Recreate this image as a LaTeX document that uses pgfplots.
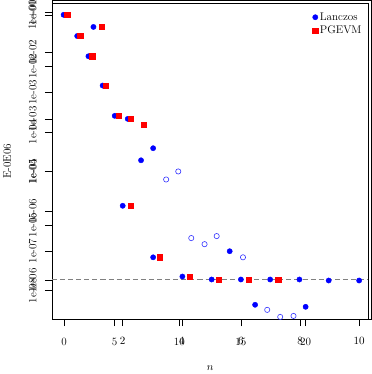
\documentclass[border=0pt]{standalone}
\usepackage{pgfplots}
\pgfplotsset{compat=1.18}
\begin{document}
\begin{tikzpicture}[font=\fontsize{11}{13}\selectfont]
\pgfplotsset{rstyle/.style={scale only axis, tick pos=left, tick align=outside,
  major tick length=7pt, minor tick num=0, axis line style={line width=0.6pt},
  every tick/.style={black, line width=0.6pt},
  tick label style={font=\fontsize{11}{13}\selectfont},
  yticklabel style={rotate=90, anchor=south, inner sep=0pt},
  xticklabel shift=8pt, yticklabel shift=8pt}}
% overlay box with the second set of tick labels
\begin{axis}[rstyle, width=316pt, height=315pt, xmin=0, xmax=316, ymin=0, ymax=315,
  xtick={12,62,126,187,251}, xticklabels={0,5,10,15,20},
  ytick={38,93,146,198,250,301},
  yticklabels={1e-06,1e-05,1e-04,1e-03,1e-02,1e+00}]
\end{axis}
\begin{axis}[rstyle, width=313pt, height=312pt,
  xmin=-0.393, xmax=10.308, ymode=log, ymin=1.95e-9, ymax=0.1694,
  xtick={2,4,6,8,10},
  ytick={1e-1,1e-2,1e-3,1e-4,1e-5,1e-6,1e-7,1e-8},
  yticklabels={1e-01,1e-02,1e-03,1e-04,1e-05,1e-06,1e-07,1e-08},
  xlabel={$n$}, ylabel={E-0E06},
  xlabel style={yshift=-14pt}, ylabel style={yshift=14pt},
  legend style={draw=none, fill=none, at={(0.995,0.985)}, anchor=north east,
    row sep=0pt, font=\fontsize{11}{13}\selectfont},
  legend cell align=left]
\addplot[only marks, mark=*, mark size=2.6pt, blue, mark options={draw=blue, fill=blue}]
coordinates {(0,8.89e-2)(0.46,2.60e-2)(1.01,4.41e-2)(0.84,8.05e-3)(1.32,1.47e-3)
(1.73,2.54e-4)(2.17,2.13e-4)(3.03,3.89e-5)(2.62,1.93e-5)(2.0,1.38e-6)(3.03,6.95e-8)
(4.02,2.28e-8)(5.01,1.92e-8)(6.0,1.92e-8)(6.99,1.92e-8)(7.98,1.92e-8)(8.97,1.81e-8)
(10,1.81e-8)(5.62,9.89e-8)(6.48,4.43e-9)(8.19,3.94e-9)};
\addlegendentry{Lanczos}
\addplot[only marks, mark=square*, mark size=2.6pt, red, mark options={draw=red, fill=red}]
coordinates {(0.12,8.89e-2)(0.56,2.60e-2)(1.28,4.41e-2)(0.97,8.05e-3)(1.42,1.47e-3)
(1.86,2.54e-4)(2.27,2.13e-4)(2.72,1.50e-4)(2.27,1.38e-6)(3.26,6.95e-8)(4.26,2.28e-8)
(5.25,1.92e-8)(6.27,1.92e-8)(7.26,1.92e-8)};
\addlegendentry{PGEVM}
\addplot[only marks, mark=o, mark size=2.6pt, blue!80, mark options={line width=0.6pt}, forget plot]
coordinates {(3.47,6.34e-6)(3.88,1.01e-5)(4.32,2.12e-7)(4.77,1.49e-7)(5.18,2.38e-7)
(6.07,6.95e-8)(6.89,3.30e-9)(7.33,2.19e-9)(7.78,2.32e-9)};
\addplot[gray, line width=0.9pt, dash pattern=on 5pt off 3pt, forget plot]
coordinates {(-0.393,1.92e-8)(10.308,1.92e-8)};
\end{axis}
\end{tikzpicture}
\end{document}
